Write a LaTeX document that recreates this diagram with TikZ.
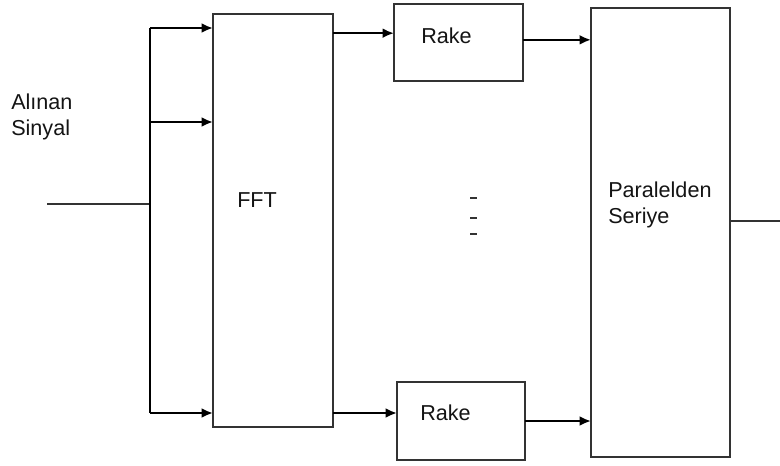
\documentclass[tikz,border=0pt]{standalone}
\usepackage{fontspec}
\setmainfont{Liberation Sans}
\usepackage{xcolor}
\usepackage{tikz}
\usetikzlibrary{arrows.meta,positioning,calc}
\definecolor{linegray}{HTML}{333333}
\definecolor{textblack}{HTML}{141414}

\begin{document}
\begin{tikzpicture}[x=0.75pt,y=-0.75pt,
    blok/.style={draw=linegray,line width=1.3pt,inner sep=0pt,outer sep=0pt,fill=white},
    lbl/.style={font=\fontsize{16.2}{19}\selectfont,text=textblack,align=left,inner sep=0pt,anchor=west},
    arr/.style={-{Latex[length=3mm,width=2.6mm]},line width=1.8pt,color=black},
    wire/.style={line width=1.5pt,color=linegray}
  ]
    \useasboundingbox (0,0) rectangle (780,465);
    % blocks
    \node[blok,minimum width=90pt,minimum height=309.75pt] (fft) at (273,220.5) {};
    \node[blok,minimum width=96.75pt,minimum height=57.75pt] (rake1) at (458.5,42.5) {};
    \node[blok,minimum width=96pt,minimum height=58.5pt] (rake2) at (461,421) {};
    \node[blok,minimum width=104.25pt,minimum height=336.75pt] (ps) at (660.5,232.5) {};
    % labels
    \node[lbl] (giris) at (11,117) {Alınan\\Sinyal};
    \node[lbl] (fftlbl) at (237,200) {FFT};
    \node[lbl] (rake1lbl) at (421,36) {Rake};
    \node[lbl] (rake2lbl) at (420,413) {Rake};
    \node[lbl] (pslbl) at (608,205) {Paralelden\\Seriye};
    % bus
    \coordinate (in) at (47,204);
    \coordinate (bt) at (150,28);
    \coordinate (bm) at (150,122);
    \coordinate (bb) at (150,413);
    \coordinate (out) at (780,220);
    \coordinate (psout) at ([yshift=9pt]ps.east);
    \draw[wire] (in) -- (in -| bt);
    \draw[line width=1.8pt] (bt) -- (bb);
    \draw[arr] (bt) -- (bt -| fft.west);
    \draw[arr] (bm) -- (bm -| fft.west);
    \draw[arr] (bb) -- (bb -| fft.west);
    % fft to rake
    \draw[arr] ([yshift=7pt]rake1.west -| fft.east) -- ([yshift=7pt]rake1.west);
    \draw[arr] ([yshift=6pt]rake2.west -| fft.east) -- ([yshift=6pt]rake2.west);
    % rake to p/s
    \draw[arr] ([yshift=2pt]rake1.east) -- ([yshift=2pt]rake1.east -| ps.west);
    \draw[arr] (rake2.east) -- (rake2.east -| ps.west);
    \draw[wire] (psout) -- (psout -| out);
    % dots
    \foreach \y in {198,218,234}
      \draw[line width=2.2pt,color=linegray] (470,\y) -- (477,\y);
  \end{tikzpicture}
\end{document}
